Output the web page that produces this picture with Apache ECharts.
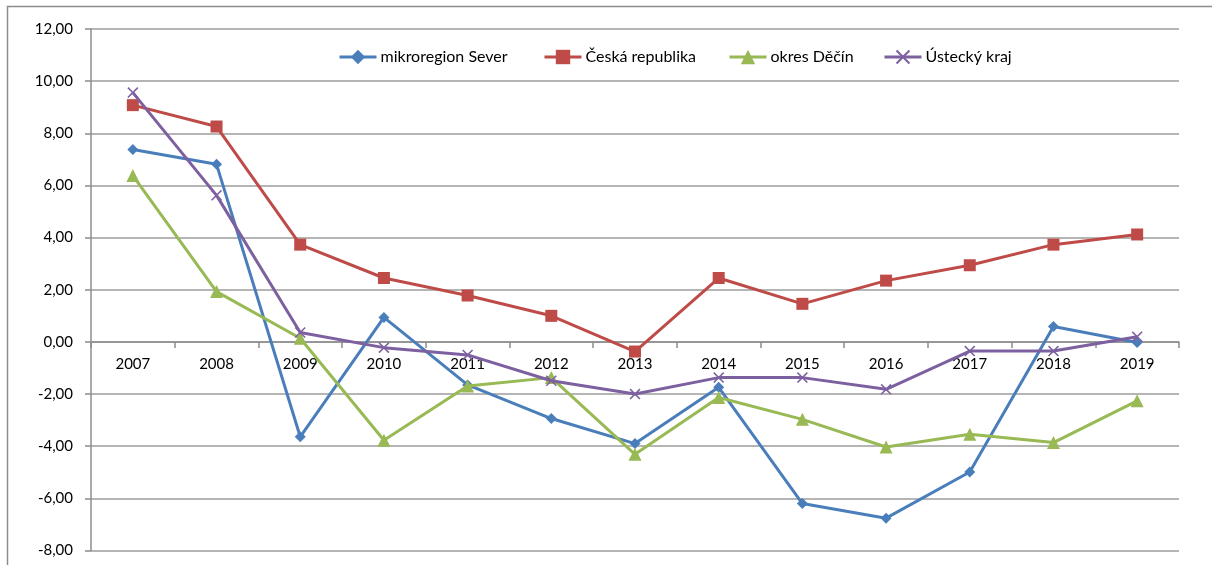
<!DOCTYPE html>
<html><head><meta charset="utf-8">
<script src="https://cdn.jsdelivr.net/npm/echarts@6/dist/echarts.min.js"></script>
<style>html,body{margin:0;padding:0;background:#fff}#c{width:1212px;height:565px}</style>
</head><body><div id="c"></div>
<script>
const years = ['2007','2008','2009','2010','2011','2012','2013','2014','2015','2016','2017','2018','2019'];
const seriesNames = ['mikroregion Sever','Česká republika','okres Děčín','Ústecký kraj'];
const mikroregionSever = [7.38,6.81,-3.64,0.94,-1.65,-2.94,-3.90,-1.74,-6.20,-6.76,-4.99,0.59,-0.02];
const ceskaRepublika = [9.08,8.26,3.73,2.45,1.78,1.00,-0.37,2.45,1.46,2.35,2.94,3.73,4.12];
const okresDecin = [6.38,1.93,0.14,-3.77,-1.69,-1.37,-4.31,-2.13,-2.97,-4.03,-3.54,-3.86,-2.26];
const usteckyKraj = [9.56,5.62,0.36,-0.22,-0.50,-1.49,-2.00,-1.37,-1.37,-1.82,-0.35,-0.35,0.20];
const yTicks = {min:-8, max:12, interval:2};

const colors = ['#4A7EBB','#BE4B48','#98B954','#7D60A0'];
const xPath = 'path://M0,1L1,0L5,4L9,0L10,1L6,5L10,9L9,10L5,6L1,10L0,9L4,5Z';
const symbols = ['diamond','rect','triangle',xPath];
const sizes = [11,12,13,11];
const dataSets = [mikroregionSever, ceskaRepublika, okresDecin, usteckyKraj];
const font = 'Lato';
const legendLefts = [333,538,723,878];

const gridTop = 29, gridBottom = 14.5, H = 565;
const plotH = H - gridTop - gridBottom;
const zeroOffset = -plotH * (0 - yTicks.min) / (yTicks.max - yTicks.min);

const chart = echarts.init(document.getElementById('c'));
chart.setOption({
  animation:false,
  backgroundColor:'#fff',
  textStyle:{fontFamily:font},
  graphic:[{type:'rect',shape:{x:7.5,y:6.5,width:1400,height:800},style:{fill:'none',stroke:'#8c8c8c',lineWidth:1.5},silent:true}],
  legend: seriesNames.map((n,i)=>({
    data:[n], left:legendLefts[i], top:44, itemWidth:37, itemHeight:18, itemGap:4,
    lineStyle:{width:3},
    textStyle:{fontFamily:font,fontSize:16,color:'#000',padding:[0,0,0,-1]}
  })),
  grid:{left:91,right:33,top:gridTop,bottom:gridBottom,containLabel:false,outerBoundsMode:'none'},
  xAxis:{
    type:'category', data:years, boundaryGap:true, position:'bottom', offset:zeroOffset,
    axisLine:{onZero:false,lineStyle:{color:'#8c8c8c',width:1.5}},
    axisTick:{show:true,length:6,interval:0,lineStyle:{color:'#8c8c8c',width:1.5}},
    axisLabel:{fontFamily:font,fontSize:15,color:'#000',margin:15,interval:0},
    splitLine:{show:false}
  },
  yAxis:{
    type:'value', min:yTicks.min, max:yTicks.max, interval:yTicks.interval,
    axisLine:{show:true,lineStyle:{color:'#8c8c8c',width:1.5}},
    axisTick:{show:true,length:6,lineStyle:{color:'#8c8c8c',width:1.5}},
    axisLabel:{fontFamily:font,fontSize:15,color:'#000',margin:18,
      formatter:v=>v.toFixed(2).replace('.',',')},
    splitLine:{show:true,lineStyle:{color:'#9c9c9c',width:1.5}}
  },
  series: seriesNames.map((n,i)=>({
    name:n, type:'line', data:dataSets[i],
    symbol:symbols[i], symbolSize:sizes[i], showAllSymbol:true,
    lineStyle:{color:colors[i],width:3},
    itemStyle:{color:colors[i]},
    z:2+i
  }))
});
</script></body></html>
